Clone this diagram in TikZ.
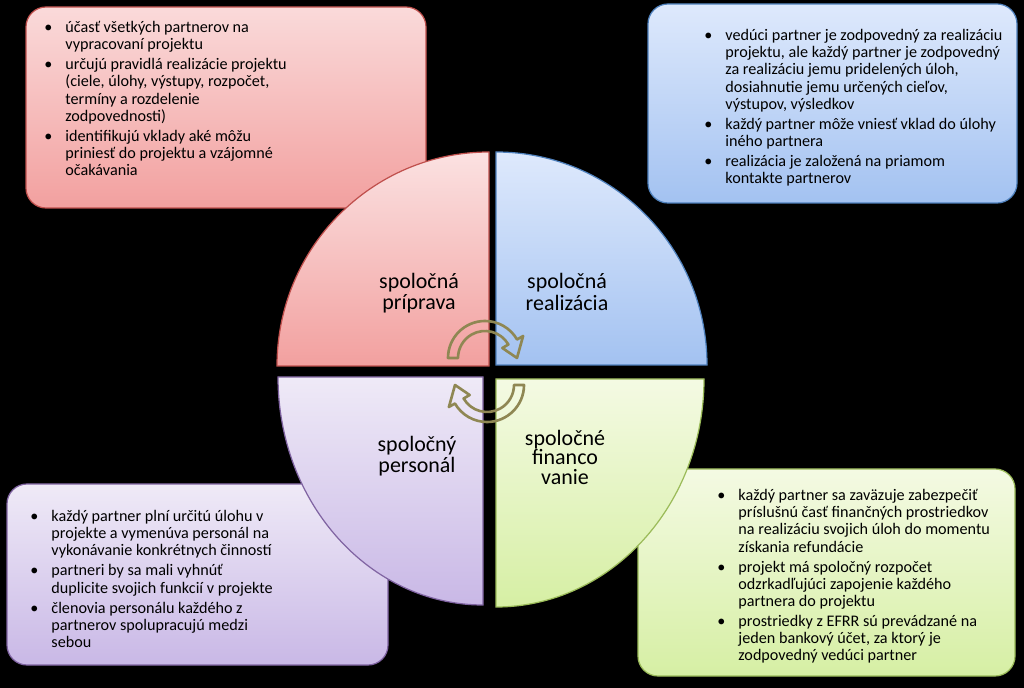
\documentclass[tikz,border=0pt]{standalone}
\usepackage{fontspec}
\setmainfont{Carlito}

\definecolor{redline}{HTML}{C0504D}
\definecolor{blueline}{HTML}{4F81BD}
\definecolor{violetline}{HTML}{8064A2}
\definecolor{greenline}{HTML}{9BBB59}
\definecolor{olive}{HTML}{8F8753}
\definecolor{redtop}{HTML}{FADADA}
\definecolor{redbot}{HTML}{F2A09F}
\definecolor{bluetop}{HTML}{DEE9FC}
\definecolor{bluebot}{HTML}{A3C2F1}
\definecolor{violettop}{HTML}{EFEAF7}
\definecolor{violetbot}{HTML}{C9B8E6}
\definecolor{greentop}{HTML}{F4FAE3}
\definecolor{greenbot}{HTML}{D6EFA4}

\newcommand{\listfont}{\fontsize{9.2}{9.8}\selectfont\setlength{\parskip}{1.6pt}}
% bullet item with hanging indent; \\ breaks the line inside the item
\newcommand{\bitem}[1]{\par\hangindent=12pt\hangafter=1\noindent\makebox[12pt][l]{\textbullet}\strut
  \begingroup\let\\\newline#1\endgroup\par}

\begin{document}
\begin{tikzpicture}[
    x=0.02cm, y=-0.02cm,
    box/.style={line width=0.7pt, rounded corners=0.4cm},
    redbox/.style={box, draw=redline, top color=redtop, bottom color=redbot},
    bluebox/.style={box, draw=blueline, top color=bluetop, bottom color=bluebot},
    violetbox/.style={box, draw=violetline, top color=violettop, bottom color=violetbot},
    greenbox/.style={box, draw=greenline, top color=greentop, bottom color=greenbot},
    quad/.style={line width=0.7pt},
    list/.style={anchor=north west, inner sep=0pt, align=flush left, font=\listfont},
    lbl/.style={align=center, inner sep=0pt, font=\fontsize{12.5}{12}\selectfont},
    cycarrow/.style={draw=olive, line width=1.5pt, line join=round},
]
\fill[black] (0,0) rectangle (1024,688);
\useasboundingbox (0,0) rectangle (1024,688);

% text boxes
\draw[redbox] (26,7) rectangle (426,208);
\draw[bluebox] (648,4) rectangle (1017,203);
\draw[violetbox] (7,484) rectangle (388,665);
\draw[greenbox] (638,469) rectangle (1015,676);

\node[list, text width=5.6cm] (listprep) at (44,12)
  {\bitem{účasť všetkých partnerov na\\vypracovaní projektu}
   \bitem{určujú pravidlá realizácie projektu\\(ciele, úlohy, výstupy, rozpočet,\\termíny a rozdelenie\\zodpovednosti)}
   \bitem{identifikujú vklady aké môžu\\priniesť do projektu a vzájomné\\očakávania}};

\node[list, text width=6.2cm] (listreal) at (704,20)
  {\bitem{vedúci partner je zodpovedný za realizáciu\\projektu, ale každý partner je zodpovedný\\za realizáciu jemu pridelených úloh,\\dosiahnutie jemu určených cieľov,\\výstupov, výsledkov}
   \bitem{každý partner môže vniesť vklad do úlohy\\iného partnera}
   \bitem{realizácia je založená na priamom\\kontakte partnerov}};

\node[list, text width=5.4cm] (listpers) at (30,501)
  {\bitem{každý partner plní určitú úlohu v\\projekte a vymenúva personál na\\vykonávanie konkrétnych činností}
   \bitem{partneri by sa mali vyhnúť\\duplicite svojich funkcií v projekte}
   \bitem{členovia personálu každého z\\partnerov spolupracujú medzi\\sebou}};

\node[list, text width=5.8cm] (listfin) at (717,480)
  {\bitem{každý partner sa zaväzuje zabezpečiť\\príslušnú časť finančných prostriedkov\\na realizáciu svojich úloh do momentu\\získania refundácie}
   \bitem{projekt má spoločný rozpočet\\odzrkadľujúci zapojenie každého\\partnera do projektu}
   \bitem{prostriedky z EFRR sú prevádzané na\\jeden bankový účet, za ktorý je\\zodpovedný vedúci partner}};

% the four quarters
\draw[quad, draw=redline, top color=redtop!80!white, bottom color=redbot]
  (489,366) -- (277,366) arc[start angle=180, end angle=270, x radius=212, y radius=214] -- cycle;
\draw[quad, draw=blueline, top color=bluetop, bottom color=bluebot]
  (496,365) -- (496,152) arc[start angle=270, end angle=360, x radius=211, y radius=213] -- cycle;
\draw[quad, draw=violetline, top color=violettop, bottom color=violetbot]
  (483,377) -- (483,605) arc[start angle=90, end angle=180, x radius=205, y radius=228] -- cycle;
\draw[quad, draw=greenline, top color=greentop, bottom color=greenbot]
  (496,379) -- (704,379) arc[start angle=0, end angle=90, x radius=208, y radius=228] -- cycle;

\node[lbl] (lblprep) at (419,293) {spoločná\\príprava};
\node[lbl] (lblreal) at (567,292) {spoločná\\realizácia};
\node[lbl] (lblpers) at (417,456) {spoločný\\personál};
\node[lbl, font=\fontsize{12.5}{11.1}\selectfont] (lblfin) at (565,457) {spoločné\\financo\\vanie};

% cycle arrows
\begin{scope}[shift={(485,358)}]
  \draw[cycarrow] (180:37) arc[start angle=180, end angle=330, radius=37] -- (330:44)
    -- (0:32) -- (330:20) -- (330:27) arc[start angle=330, end angle=180, radius=27] -- cycle;
\end{scope}
\begin{scope}[shift={(487,385)}]
  \draw[cycarrow] (0:37) arc[start angle=0, end angle=150, radius=37] -- (150:44)
    -- (180:32) -- (150:20) -- (150:27) arc[start angle=150, end angle=0, radius=27] -- cycle;
\end{scope}
\end{tikzpicture}
\end{document}
